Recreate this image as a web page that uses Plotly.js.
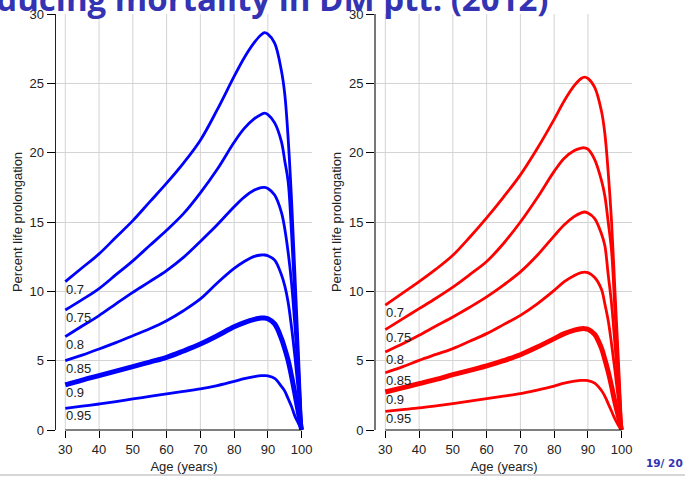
<!DOCTYPE html>
<html><head><meta charset="utf-8">
<script src="https://cdn.plot.ly/plotly-3.0.1.min.js"></script>
<style>html,body{margin:0;padding:0;background:#fff;overflow:hidden}</style>
</head><body>
<div id="chart" style="width:685px;height:477px"></div>
<script>
// ---- data ----
const ages = [30,35,40,45,50,55,60,65,70,75,80,83,86,88,89,90,92,94,95,96,97,98,99,100];
const levels = ["0.7","0.75","0.8","0.85","0.9","0.95"];
const xTicks = [30,40,50,60,70,80,90,100];
const gridX = [30,40,50,60,70,80,90];
const yTicks = [0,5,10,15,20,25,30];

// left panel (blue)
const left07  = [10.7,11.7,12.7,13.9,15.1,16.45,17.8,19.25,20.9,23.1,25.5,26.85,27.95,28.5,28.65,28.55,27.9,25.9,24.2,21.0,16.6,11.2,5.7,0];
const left075 = [8.65,9.4,10.2,11.2,12.2,13.3,14.4,15.6,17.1,18.8,20.75,21.75,22.45,22.75,22.85,22.75,22.15,20.8,19.4,17.9,14.2,9.5,4.8,0];
const left08  = [6.73,7.5,8.25,9.1,9.93,10.7,11.5,12.45,13.6,14.8,16.1,16.8,17.3,17.48,17.5,17.42,16.95,15.7,14.5,12.8,10.6,7.5,3.9,0];
const left085 = [5.0,5.4,5.84,6.3,6.8,7.3,7.88,8.6,9.45,10.6,11.65,12.15,12.52,12.62,12.62,12.56,12.25,11.2,10.4,9.2,7.4,5.3,2.8,0];
const left09  = [3.25,3.6,3.92,4.25,4.57,4.9,5.24,5.7,6.2,6.8,7.45,7.75,7.98,8.07,8.08,8.02,7.65,6.6,5.85,5.0,3.88,2.62,1.3,0];
const left095 = [1.56,1.72,1.875,2.05,2.24,2.42,2.6,2.78,2.96,3.2,3.5,3.7,3.85,3.92,3.92,3.9,3.72,3.15,2.8,2.25,1.7,1.0,0.5,0];

// right panel (red)
const right07  = [9.0,9.85,10.7,11.6,12.6,13.9,15.3,16.8,18.4,20.3,22.4,23.75,24.85,25.35,25.45,25.35,24.7,23.0,21.4,18.6,15.0,10.0,5.1,0];
const right075 = [7.24,8.0,8.75,9.5,10.3,11.2,12.15,13.45,15.0,16.75,18.65,19.6,20.15,20.33,20.35,20.25,19.5,18.0,16.9,15.0,12.9,8.6,4.3,0];
const right08  = [5.63,6.2,6.83,7.5,8.15,8.85,9.6,10.45,11.4,12.6,14.0,14.8,15.4,15.66,15.72,15.65,15.25,14.15,13.3,11.2,9.1,6.2,3.1,0];
const right085 = [4.13,4.55,5.02,5.45,5.87,6.4,6.95,7.6,8.27,9.1,10.07,10.7,11.15,11.35,11.39,11.35,11.0,10.15,9.1,7.9,6.2,4.3,2.2,0];
const right09  = [2.74,3.04,3.34,3.65,3.99,4.3,4.62,5.0,5.43,5.98,6.59,6.95,7.2,7.3,7.31,7.26,6.9,5.9,5.1,4.2,3.15,2.0,1.0,0];
const right095 = [1.35,1.47,1.59,1.74,1.9,2.08,2.26,2.44,2.62,2.88,3.17,3.38,3.52,3.58,3.58,3.56,3.38,2.85,2.45,1.9,1.35,0.8,0.35,0];

const titleText = "Reducing mortality in DM ptt. (2012)";
const pageText = "19/ 20";
const xTitle = "Age (years)";
const yTitle = "Percent life prolongation";

// ---- build ----
const leftSeries = [left07,left075,left08,left085,left09,left095];
const rightSeries = [right07,right075,right08,right085,right09,right095];
const thickLevel = "0.9";
const traces = [];
const annotations = [];
function addPanel(series, color, xa, ya){
  series.forEach((ys, i) => {
    traces.push({
      x: ages, y: ys, xaxis: xa, yaxis: ya, type: 'scatter', mode: 'lines',
      line: {color: color, width: levels[i] === thickLevel ? 5 : 2.8, shape: 'spline', smoothing: 1},
      hoverinfo: 'skip', showlegend: false
    });
    annotations.push({
      x: ages[0], y: ys[0], xref: xa, yref: ya, text: levels[i], showarrow: false,
      xanchor: 'left', yanchor: 'top', xshift: -1, yshift: 2,
      font: {family: 'Liberation Sans, Arial, sans-serif', size: 13, color: '#222'}
    });
  });
}
addPanel(leftSeries, '#0000ff', 'x', 'y');
addPanel(rightSeries, '#ff0000', 'x2', 'y2');

annotations.push({
  text: titleText, xref: 'paper', yref: 'paper', x: 0.8576, y: 1, xanchor: 'right', yanchor: 'bottom',
  yshift: -9, showarrow: false,
  font: {family: 'Open Sans, sans-serif', size: 33, color: '#3333b3', weight: 700}
});
annotations.push({
  text: '<b>' + pageText + '</b>', xref: 'paper', yref: 'paper', x: 1.092, y: -0.0793,
  xanchor: 'right', yanchor: 'middle', showarrow: false,
  font: {family: 'DejaVu Sans, sans-serif', size: 10.5, color: '#3333b3'}
});

const shapes = [];
['x', 'x2'].forEach(xa => {
  gridX.forEach(v => shapes.push({type: 'line', xref: xa, yref: 'paper', x0: v, x1: v, y0: 0, y1: 1,
    layer: 'below', line: {color: '#d3d3d3', width: 1}}));
  shapes.push({type: 'line', xref: xa, yref: 'paper', x0: xTicks[0], x1: xTicks[xTicks.length-1], y0: 0, y1: 0,
    layer: 'above', line: {color: '#000', width: 1}});
});
shapes.push({type: 'line', xref: 'paper', yref: 'paper', x0: -0.1, x1: 1.1, y0: -0.108, y1: -0.108,
  line: {color: '#c8c8c8', width: 1.5}});

const tickFont = {family: 'Liberation Sans, Arial, sans-serif', size: 13, color: '#222'};
const titleFont = {family: 'Liberation Sans, Arial, sans-serif', size: 13, color: '#222'};
function xAxis(domain, anchor){
  return {domain: domain, anchor: anchor, range: [27.25, 103.05], tickmode: 'array', tickvals: xTicks,
    showgrid: false, zeroline: false, showline: false, ticks: 'outside', ticklen: 7, tickcolor: '#000',
    tickfont: tickFont, title: {text: xTitle, font: titleFont, standoff: 6}, fixedrange: true};
}
function yAxis(anchor, lineColor, lw){
  return {anchor: anchor, range: [0, 30], tickmode: 'array', tickvals: yTicks, showgrid: true,
    gridcolor: '#d3d3d3', gridwidth: 1, zeroline: false, showline: true, linecolor: lineColor, linewidth: lw,
    ticks: 'outside', ticklen: 8, tickcolor: '#000', tickfont: tickFont,
    title: {text: yTitle, font: titleFont, standoff: 4}, fixedrange: true};
}

const layout = {
  width: 685, height: 477,
  margin: {l: 56, r: 53, t: 14, b: 47, pad: 0},
  paper_bgcolor: '#fff', plot_bgcolor: '#fff',
  showlegend: false,
  xaxis: xAxis([0, 0.4444], 'y'),
  yaxis: yAxis('x', '#222', 1.5),
  xaxis2: xAxis([0.5556, 1], 'y2'),
  yaxis2: yAxis('x2', '#777', 2),
  annotations: annotations,
  shapes: shapes
};
Plotly.newPlot('chart', traces, layout, {displayModeBar: false, staticPlot: true});
</script>
</body></html>
